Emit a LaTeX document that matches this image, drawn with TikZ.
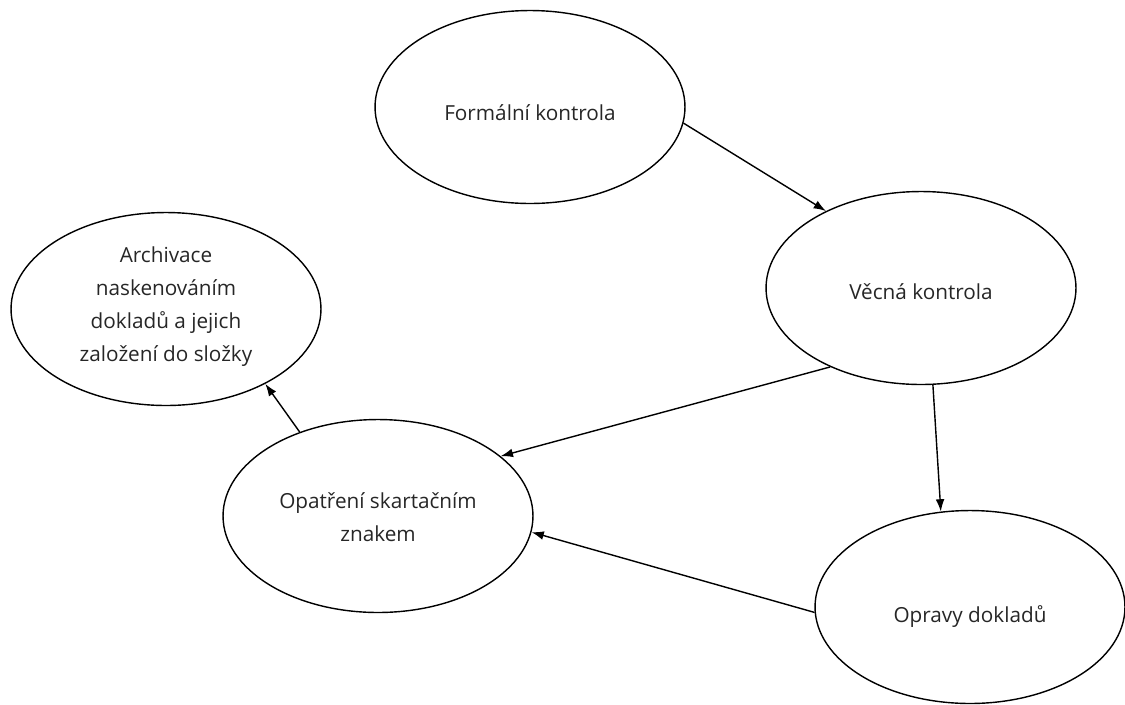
\documentclass[tikz,border=0pt]{standalone}
\usepackage{fontspec}
\setmainfont{Open Sans}
\usetikzlibrary{shapes.geometric,arrows.meta}

% 文字の上下のずらし
\newcommand{\posun}[2]{\raisebox{#1}[\height][\depth]{\begin{tabular}{@{}c@{}}#2\end{tabular}}}

\begin{document}
\begin{tikzpicture}[x=0.02cm, y=-0.02cm,
    uzel/.style={draw, ellipse, line width=0.8pt, inner sep=0pt,
        minimum width=6.2cm, minimum height=3.86cm, align=center,
        font=\fontsize{11.8}{18.7}\selectfont, text=black!85},
    sipka/.style={-{Latex[length=7pt,width=5pt]}, line width=0.8pt}]

    % 枠の定義
    \useasboundingbox (0,0) rectangle (1125,704);

    % 点の定義
    \coordinate (F) at (530,107);
    \coordinate (V) at (921,288);
    \coordinate (A) at (166,309);
    \coordinate (S) at (378,516);
    \coordinate (O) at (970,607);

    % 楕円の描画
    \node[uzel] (formal) at (F) {\posun{-4pt}{Formální kontrola}};
    \node[uzel] (vecna) at (V) {\posun{-3pt}{Věcná kontrola}};
    \node[uzel] (archiv) at (A) {\posun{2pt}{Archivace\\naskenováním\\dokladů a jejich\\založení do složky}};
    \node[uzel] (skart) at (S) {\posun{-1.5pt}{Opatření skartačním\\znakem}};
    \node[uzel] (oprava) at (O) {\posun{-5pt}{Opravy dokladů}};

    % 矢印の描画
    \draw[sipka] (formal.-6) -- (vecna.141);
    \draw[sipka] (vecna.221) -- (skart.26);
    \draw[sipka] (vecna.-83) -- (oprava.107);
    \draw[sipka] (oprava.182) -- (skart.-6);
    \draw[sipka] (skart.133) -- (archiv.-37);

\end{tikzpicture}
\end{document}
